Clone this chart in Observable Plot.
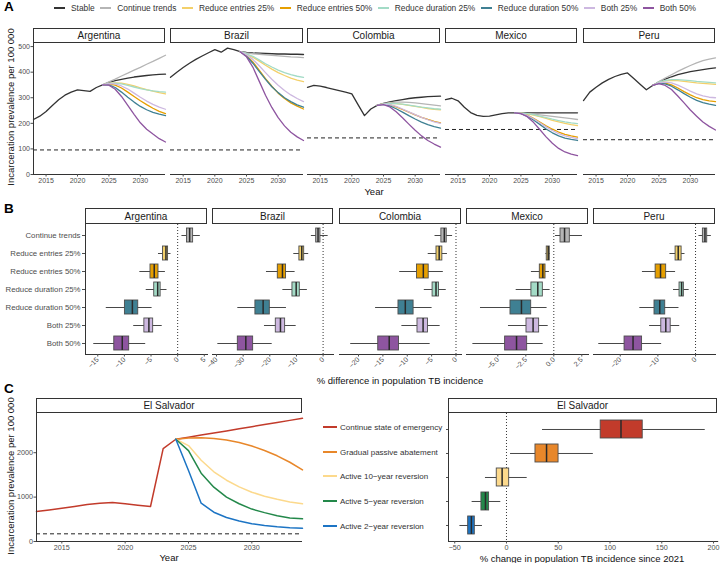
<!DOCTYPE html>
<html><head><meta charset="utf-8">
<script src="https://cdn.jsdelivr.net/npm/d3@7"></script>
<script src="https://cdn.jsdelivr.net/npm/@observablehq/plot@0.6"></script>
<style>
body{margin:0;background:#fff;font-family:'Liberation Sans',Arial,sans-serif;}
#root{position:relative;width:720px;height:563px;overflow:hidden;background:#fff;}
.strip{position:absolute;box-sizing:border-box;border:1px solid #333;background:#fff;display:flex;align-items:center;justify-content:center;font-size:10px;color:#1a1a1a;}
.title{position:absolute;font-size:9.5px;color:#111;white-space:nowrap;}
.letter{position:absolute;font-weight:bold;font-size:13.5px;color:#000;}
.legA{position:absolute;left:54px;top:2px;height:12px;display:flex;align-items:center;font-size:8.4px;color:#333;white-space:nowrap;}
.legA .key{width:11px;height:2px;margin-right:6px;}
.legA .item{display:flex;align-items:center;margin-right:5.5px;}
.legC{position:absolute;font-size:8px;color:#333;white-space:nowrap;display:flex;align-items:center;}
.legC .key{width:14px;height:2px;margin-right:3px;}
</style></head><body><div id="root"></div>
<script>
// ---------- data ----------
const countries = ["Argentina","Brazil","Colombia","Mexico","Peru"];
const scenarios = ["Stable","Continue trends","Reduce entries 25%","Reduce entries 50%","Reduce duration 25%","Reduce duration 50%","Both 25%","Both 50%"];
const scenarioColors = ["#333333","#b5b5b5","#F3D06A","#E69F00","#A3DBC6","#3F8093","#CDB8E0","#8E55A0"];
const histYears = [2013,2014,2015,2016,2017,2018,2019,2020,2021,2022,2023,2024];
const projYears = [2025,2026,2027,2028,2029,2030,2031,2032,2033,2034];
const yearTicks = [2015,2020,2025,2030];
const prevTicks = [0,100,200,300,400,500];

const histArgentina = [215,228,246,270,292,310,322,331,328,325,340,350];
const projArgentina = [
  [360,367,372,377,381,384,387,389,391,392],
  [362,373,385,396,408,419,431,442,454,466],
  [356,358,357,352,346,339,332,326,320,315],
  [353,349,338,322,305,288,273,259,247,238],
  [356,357,354,348,342,336,331,327,324,322],
  [350,340,322,302,283,266,253,243,236,230],
  [355,354,346,334,318,302,287,274,263,255],
  [349,333,305,270,235,202,177,158,140,127]];
const histBrazil = [380,400,418,435,450,463,476,488,478,494,488,480];
const projBrazil = [
  [477,475,474,473,472,471,471,470,470,469],
  [475,472,470,468,466,464,462,460,459,457],
  [470,458,443,427,412,398,387,377,369,363],
  [465,440,408,375,345,318,297,280,267,256],
  [472,462,448,433,420,408,398,390,384,380],
  [462,435,403,372,343,320,300,285,272,263],
  [468,450,425,398,372,349,328,311,297,285],
  [460,420,365,310,262,222,190,165,147,133]];
const histColombia = [341,348,345,340,334,328,322,315,272,230,256,270];
const projColombia = [
  [278,284,289,293,297,300,302,304,305,306],
  [277,281,283,283,282,280,277,274,271,268],
  [276,278,277,274,270,266,262,258,255,253],
  [275,272,264,254,244,233,223,215,208,202],
  [276,278,277,275,271,267,263,260,257,255],
  [274,268,257,244,230,217,205,195,187,181],
  [275,273,266,256,245,234,223,214,206,200],
  [273,264,245,222,197,173,151,133,119,107]];
const histMexico = [293,298,288,263,242,231,227,228,233,238,241,241];
const projMexico = [
  [241,241,241,241,241,241,241,241,241,241],
  [240,238,236,233,230,227,224,221,218,215],
  [240,237,232,226,219,212,206,200,195,191],
  [239,232,220,205,190,177,166,157,151,146],
  [240,238,234,228,222,216,211,206,202,199],
  [238,228,213,196,178,163,151,142,137,133],
  [239,231,218,202,186,172,160,151,145,140],
  [238,226,204,176,147,122,102,88,80,74]];
const histPeru = [289,322,341,358,372,383,391,397,375,353,331,348];
const projPeru = [
  [362,373,382,390,396,402,406,410,414,417],
  [363,377,390,403,415,426,436,445,451,456],
  [360,366,368,367,364,361,358,356,354,352],
  [357,357,350,338,324,311,300,293,288,285],
  [361,368,371,371,369,367,364,362,360,358],
  [356,354,345,331,316,302,290,281,275,270],
  [358,361,358,349,338,326,315,307,302,300],
  [355,348,332,307,280,252,228,205,188,174]];
const refLevels = [96,96,143,176,136];

// Panel B: [lower whisker, q1, median, q3, upper whisker] per scenario (without Stable)
const boxScenarios = scenarios.slice(1);
const boxArgentina = [[0.8,1.75,2.25,2.9,4.25],[-3.6,-2.75,-2.2,-1.8,-1.25],[-7.1,-5.1,-4.4,-3.6,-2.3],[-5.9,-4.4,-3.75,-3.2,-2.0],[-13.4,-9.9,-8.5,-7.4,-4.8],[-8.25,-6.25,-5.4,-4.6,-2.9],[-15.75,-11.9,-10.4,-9.1,-6.0]];
const boxBrazil = [[-4.4,-2.6,-1.9,-1.0,1.9],[-11,-8.9,-8,-7.1,-5.4],[-21.25,-17,-15.25,-13.9,-10.5],[-15.1,-11.5,-10.1,-8.75,-5.9],[-32,-25.4,-22.5,-20,-13.75],[-22,-17.75,-16,-14.25,-10.1],[-39.5,-32,-29,-26.25,-19.1]];
const boxColombia = [[-4.3,-3.0,-2.4,-1.9,-0.7],[-5.7,-4.0,-3.45,-2.8,-1.75],[-11.55,-8.0,-6.7,-5.6,-2.6],[-6.5,-4.8,-4.1,-3.5,-2.0],[-16.5,-11.8,-10.4,-8.7,-4.9],[-11.1,-7.9,-6.75,-5.75,-3.25],[-21.6,-15.95,-13.7,-11.7,-5.3]];
const boxMexico = [[0.15,0.6,0.96,1.43,2.56],[-0.71,-0.63,-0.5,-0.36,-0.3],[-2.0,-1.25,-0.98,-0.74,-0.39],[-3.36,-2.0,-1.43,-0.98,-0.33],[-6.55,-3.87,-2.89,-2.02,-0.6],[-4.05,-2.44,-1.85,-1.31,-0.5],[-7.23,-4.35,-3.33,-2.38,-0.95]];
const boxPeru = [[0.9,1.95,2.5,3.1,4.2],[-6.8,-5.3,-4.6,-3.7,-2.8],[-14.1,-10.6,-9.3,-7.8,-5.3],[-5.85,-4.25,-3.7,-3.1,-1.7],[-14.8,-10.9,-9.5,-8.05,-4.4],[-12.2,-9.1,-7.9,-6.6,-4.2],[-25.7,-18.85,-16.6,-14.2,-9.0]];
const bDomains = [[-17.3,5.6],[-41.5,3.9],[-23.9,1.13],[-7.8,3.1],[-27.1,5.3]];
const bTicks = [[-15,-10,-5,0,5],[-40,-30,-20,-10,0],[-20,-15,-10,-5,0],[-5,-2.5,0,2.5],[-20,-10,0]];

// Panel C: El Salvador
const esScenarios = ["Continue state of emergency","Gradual passive abatement","Active 10\u2212year reversion","Active 5\u2212year reversion","Active 2\u2212year reversion"];
const esColors = ["#C23B2B","#E8872A","#FCD98C","#23884A","#1C74C4"];
const esHist = [675,712,750,790,833,863,878,850,818,788,2093,2303];
const esProj = [
  [2350,2397,2444,2491,2538,2586,2633,2680,2728,2775],
  [2330,2335,2320,2285,2230,2150,2050,1930,1785,1613],
  [2160,1830,1570,1380,1230,1110,1020,950,890,848],
  [2048,1538,1223,1000,850,730,650,580,530,510],
  [1600,863,660,540,460,400,360,330,310,300]];
const esRef = 173;
const esBox = [[34.8,91,110.6,131.6,192],[3.9,28,38.7,50.3,83.9],[-20.3,-9.4,-4.2,2.6,20],[-33.2,-24.2,-20.3,-16.8,-5.5],[-45,-37,-33.9,-30.6,-23.2]];
const esYearTicks = [2015,2020,2025,2030];
const esPrevTicks = [0,1000,2000];
const esChangeTicks = [-50,0,50,100,150,200];

// ---------- helpers ----------
const root = document.getElementById("root");
const FONT = "'Liberation Sans', Arial, sans-serif";
const baseStyle = {fontFamily: FONT, fontSize: "7px", color: "#4d4d4d", background: "transparent", overflow: "visible"};
function place(el, left, top){ el.style.position="absolute"; el.style.left=left+"px"; el.style.top=top+"px"; root.appendChild(el); }
function div(cls, html, css){ const d=document.createElement("div"); d.className=cls; d.innerHTML=html; Object.assign(d.style, css); root.appendChild(d); return d; }
function strip(text, x0, x1, y0, y1){ div("strip", text, {left:x0+"px", top:y0+"px", width:(x1-x0)+"px", height:(y1-y0)+"px"}); }
function htitle(text, cx, cy){ div("title", text, {left:cx+"px", top:cy+"px", transform:"translate(-50%,-50%)"}); }
function vtitle(text, cx, cy){ div("title", text, {left:cx+"px", top:cy+"px", transform:"translate(-50%,-50%) rotate(-90deg)"}); }
function buildRows(hist, proj, names){
  const rows=[];
  histYears.forEach((y,i)=>rows.push({scenario:names[0], year:y, value:hist[i]}));
  names.forEach((s,k)=>{
    if(k>0) rows.push({scenario:s, year:2024, value:hist[hist.length-1]});
    projYears.forEach((y,i)=>rows.push({scenario:s, year:y, value:proj[k][i]}));
  });
  return rows;
}
function buildStats(box, names){ return names.map((s,k)=>({scenario:s, lo:box[k][0], q1:box[k][1], med:box[k][2], q3:box[k][3], hi:box[k][4]})); }

// ---------- letters & legend ----------
div("letter","A",{left:"4px", top:"-1px"});
div("letter","B",{left:"4px", top:"201px"});
div("letter","C",{left:"4px", top:"381px"});
const leg = div("legA","",{});
scenarios.forEach((s,i)=>{ const it=document.createElement("div"); it.className="item"; it.innerHTML=`<div class="key" style="background:${scenarioColors[i]}"></div><span>${s}</span>`; leg.appendChild(it); });

// ---------- Panel A ----------
const hists = [histArgentina,histBrazil,histColombia,histMexico,histPeru];
const projs = [projArgentina,projBrazil,projColombia,projMexico,projPeru];
const aBounds = [[33,165],[170,303],[307,440],[445,577],[583,715]];
const A_TOP=43, A_BOT=174;
countries.forEach((c,i)=>{
  const [x0,x1]=aBounds[i];
  strip(c, x0, x1, 28, A_TOP);
  const ml = i===0 ? 33 : 2, mr = 2, mt = 2, mb = 20;
  const rows = buildRows(hists[i], projs[i], scenarios);
  const p = Plot.plot({
    width: ml+(x1-x0)+mr, height: mt+(A_BOT-A_TOP)+mb,
    marginLeft: ml, marginRight: mr, marginTop: mt, marginBottom: mb,
    style: baseStyle,
    x: {domain:[2013,2034]},
    y: {domain:[0,512], axis: i===0 ? undefined : null},
    color: {domain: scenarios, range: scenarioColors},
    marks: [
      Plot.ruleY([refLevels[i]], {stroke:"#222", strokeDasharray:"4,3", strokeWidth:1}),
      Plot.line(rows, {x:"year", y:"value", z:"scenario", stroke:"scenario", strokeWidth:1.3}),
      Plot.ruleY([0], {stroke:"#333", strokeWidth:1}),
      i===0 ? Plot.ruleX([2013], {stroke:"#333", strokeWidth:1}) : null,
      Plot.axisX({ticks: yearTicks, tickFormat: d=>String(d), tickSize:2.5, tickPadding:1.5, fontSize:7, label:null}),
      i===0 ? Plot.axisY({ticks: prevTicks, tickFormat: d3.format("d"), tickSize:2.5, tickPadding:1, fontSize:7, label:null}) : null
    ]
  });
  place(p, x0-ml, A_TOP-mt);
});
vtitle("Incarceration prevalence per 100 000", 10, 107);
htitle("Year", 374, 191);

// ---------- Panel B ----------
const boxes = [boxArgentina,boxBrazil,boxColombia,boxMexico,boxPeru];
const bBounds = [[85,207],[212,333],[339,461],[466,588],[593,715]];
const B_TOP=224, B_BOT=354;
countries.forEach((c,i)=>{
  const [x0,x1]=bBounds[i];
  strip(c, x0, x1, 208, B_TOP);
  const ml = i===0 ? 85 : 2, mr = 2, mt = 1, mb = 28;
  const stats = buildStats(boxes[i], boxScenarios);
  const p = Plot.plot({
    width: ml+(x1-x0)+mr, height: mt+(B_BOT-B_TOP)+mb,
    marginLeft: ml, marginRight: mr, marginTop: mt, marginBottom: mb,
    style: baseStyle,
    x: {domain: bDomains[i]},
    y: {domain: boxScenarios, type:"band", paddingInner:0.25, paddingOuter:0.225, axis: i===0 ? undefined : null},
    color: {domain: boxScenarios, range: scenarioColors.slice(1)},
    marks: [
      Plot.ruleX([0], {stroke:"#333", strokeDasharray:"1,2", strokeWidth:1}),
      Plot.ruleY(stats, {y:"scenario", x1:"lo", x2:"hi", stroke:"#333", strokeWidth:0.9}),
      Plot.barX(stats, {y:"scenario", x1:"q1", x2:"q3", fill:"scenario", stroke:"#4d4d4d", strokeWidth:0.9}),
      Plot.tickX(stats, {y:"scenario", x:"med", stroke:"#2a2a2a", strokeWidth:1.5}),
      Plot.frame({anchor:"bottom", stroke:"#333"}),
      i===0 ? Plot.frame({anchor:"left", stroke:"#333"}) : null,
      Plot.axisX({ticks: bTicks[i], tickRotate:-45, tickSize:2.5, tickPadding:1.5, fontSize:7, label:null, tickFormat: i===3 ? d3.format(".1f") : d3.format("d")}),
      i===0 ? Plot.axisY({tickSize:3, tickPadding:2, fontSize:7.8, label:null}) : null
    ]
  });
  place(p, x0-ml, B_TOP-mt);
});
htitle("% difference in population TB incidence", 400, 380);

// ---------- Panel C left ----------
const C_TOP=413, C_BOT=541;
strip("El Salvador", 36, 302, 398, C_TOP);
{
  const ml=36, mr=2, mt=1, mb=16;
  const rows = buildRows(esHist, esProj, esScenarios);
  const p = Plot.plot({
    width: ml+(302-36)+mr, height: mt+(C_BOT-C_TOP)+mb,
    marginLeft: ml, marginRight: mr, marginTop: mt, marginBottom: mb,
    style: baseStyle,
    x: {domain:[2013,2034]},
    y: {domain:[0,2883]},
    color: {domain: esScenarios, range: esColors},
    marks: [
      Plot.ruleY([esRef], {stroke:"#222", strokeDasharray:"4,3", strokeWidth:1}),
      Plot.line(rows, {x:"year", y:"value", z:"scenario", stroke:"scenario", strokeWidth:1.5}),
      Plot.ruleY([0], {stroke:"#333"}),
      Plot.ruleX([2013], {stroke:"#333"}),
      Plot.axisX({ticks: esYearTicks, tickFormat: d=>String(d), tickSize:2.5, tickPadding:1, fontSize:7.2, label:null}),
      Plot.axisY({ticks: esPrevTicks, tickFormat: d3.format("d"), tickSize:2.5, tickPadding:1, fontSize:7.2, label:null})
    ]
  });
  place(p, 36-ml, C_TOP-mt);
}
vtitle("Incarceration prevalence per 100 000", 10, 476);
htitle("Year", 169, 557);

// ---------- Panel C right ----------
strip("El Salvador", 448, 717, 398, C_TOP);
{
  const x0=447.5, x1=716.7;
  const ml=4, mr=2, mt=1, mb=16;
  const stats = buildStats(esBox, esScenarios);
  const p = Plot.plot({
    width: ml+(x1-x0)+mr, height: mt+(C_BOT-C_TOP)+mb,
    marginLeft: ml, marginRight: mr, marginTop: mt, marginBottom: mb,
    style: baseStyle,
    x: {domain:[-56,204]},
    y: {domain: esScenarios, type:"band", paddingInner:0.25, paddingOuter:0.225},
    color: {domain: esScenarios, range: esColors},
    marks: [
      Plot.ruleX([0], {stroke:"#333", strokeDasharray:"1,2", strokeWidth:1}),
      Plot.ruleY(stats, {y:"scenario", x1:"lo", x2:"hi", stroke:"#333", strokeWidth:0.9}),
      Plot.barX(stats, {y:"scenario", x1:"q1", x2:"q3", fill:"scenario", stroke:"#4d4d4d", strokeWidth:0.9}),
      Plot.tickX(stats, {y:"scenario", x:"med", stroke:"#2a2a2a", strokeWidth:1.5}),
      Plot.frame({anchor:"bottom", stroke:"#333"}),
      Plot.frame({anchor:"left", stroke:"#333"}),
      Plot.axisX({ticks: esChangeTicks, tickSize:2.5, tickPadding:1, fontSize:7.2, label:null, tickFormat: d3.format("d")}),
      Plot.axisY({tickSize:2, tickFormat: ()=>"", label:null})
    ]
  });
  place(p, x0-ml, C_TOP-mt);
}
htitle("% change in population TB incidence since 2021", 582, 557.5);
// legend for panel C (between the two plots)
const legRows = [427, 452, 476, 501, 526];
esScenarios.forEach((s,i)=>{
  div("legC", `<div class="key" style="background:${esColors[i]}"></div><span>${s}</span>`, {left:"323px", top:(legRows[i]-6)+"px", height:"12px"});
});
</script></body></html>
